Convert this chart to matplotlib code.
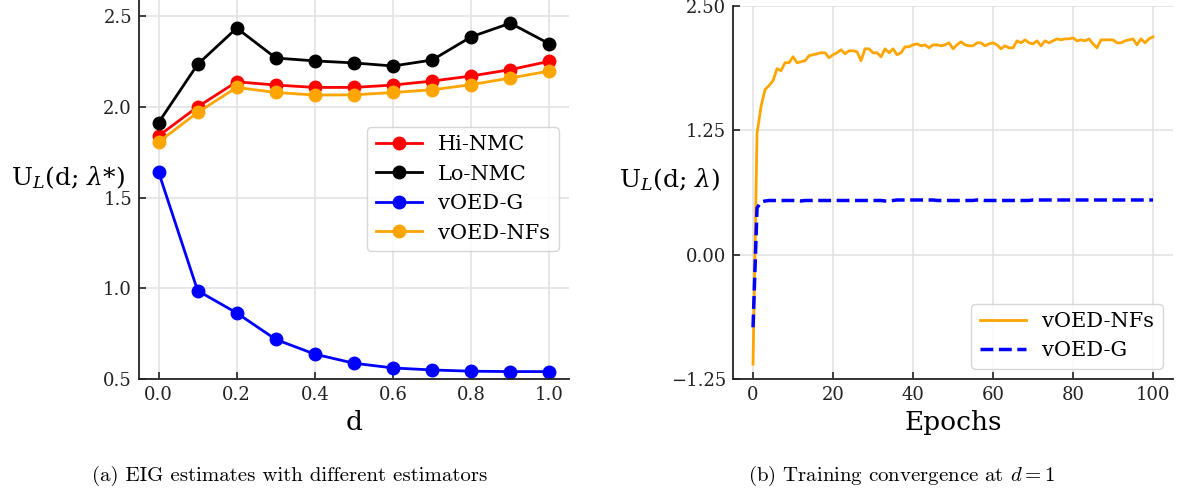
import matplotlib
matplotlib.use("Agg")
import matplotlib.pyplot as plt

plt.rcParams['font.family'] = ['DejaVu Serif']
plt.rcParams['mathtext.fontset'] = 'dejavuserif'

# (a) EIG estimates vs design d
d_vals = [0.0, 0.1, 0.2, 0.3, 0.4, 0.5, 0.6, 0.7, 0.8, 0.9, 1.0]
hi_nmc = [1.84, 2.00, 2.138, 2.12, 2.107, 2.107, 2.12, 2.142, 2.17, 2.205, 2.251]
lo_nmc = [1.913, 2.234, 2.434, 2.269, 2.253, 2.242, 2.225, 2.258, 2.386, 2.461, 2.347]
voed_g = [1.641, 0.987, 0.864, 0.718, 0.637, 0.587, 0.561, 0.55, 0.543, 0.541, 0.541]
voed_nfs = [1.806, 1.969, 2.107, 2.079, 2.065, 2.066, 2.079, 2.094, 2.122, 2.159, 2.197]

# (b) training convergence at d = 1
epochs = list(range(101))
nfs_train = [-1.10, 1.22, 1.49, 1.66, 1.70, 1.75, 1.87, 1.85, 1.93, 1.93,
             1.99, 1.93, 1.94, 1.95, 2.00, 2.01, 2.02, 2.03, 2.03, 1.98,
             2.01, 2.03, 2.06, 2.02, 2.05, 2.05, 2.04, 1.95, 2.07, 2.07,
             2.03, 2.03, 1.99, 2.07, 2.03, 2.07, 2.01, 2.03, 2.09, 2.09,
             2.11, 2.12, 2.10, 2.11, 2.08, 2.11, 2.11, 2.10, 2.11, 2.13,
             2.07, 2.11, 2.14, 2.11, 2.10, 2.10, 2.13, 2.13, 2.10, 2.12,
             2.13, 2.11, 2.07, 2.10, 2.08, 2.08, 2.15, 2.13, 2.16, 2.13,
             2.12, 2.15, 2.10, 2.15, 2.13, 2.15, 2.17, 2.16, 2.17, 2.17,
             2.18, 2.15, 2.16, 2.15, 2.17, 2.12, 2.08, 2.16, 2.16, 2.16,
             2.16, 2.13, 2.13, 2.15, 2.16, 2.17, 2.11, 2.17, 2.13, 2.17,
             2.19]
g_train = [-0.73, 0.47, 0.53, 0.54, 0.545, 0.545, 0.545, 0.545, 0.545, 0.545,
           0.545, 0.545, 0.54, 0.545, 0.545, 0.545, 0.545, 0.545, 0.545, 0.545,
           0.545, 0.545, 0.545, 0.545, 0.545, 0.545, 0.545, 0.545, 0.545, 0.545,
           0.545, 0.545, 0.545, 0.54, 0.54, 0.545, 0.55, 0.55, 0.55, 0.55,
           0.55, 0.55, 0.55, 0.55, 0.55, 0.55, 0.545, 0.545, 0.545, 0.545,
           0.545, 0.545, 0.545, 0.545, 0.545, 0.545, 0.55, 0.55, 0.545, 0.545,
           0.545, 0.545, 0.545, 0.545, 0.545, 0.545, 0.545, 0.545, 0.545, 0.545,
           0.55, 0.55, 0.55, 0.55, 0.55, 0.55, 0.55, 0.55, 0.55, 0.55,
           0.55, 0.55, 0.55, 0.55, 0.55, 0.55, 0.55, 0.55, 0.55, 0.55,
           0.55, 0.55, 0.55, 0.55, 0.55, 0.55, 0.55, 0.55, 0.55, 0.55,
           0.55]

fig = plt.figure(figsize=(11.77, 4.95), dpi=100)
ax1 = fig.add_axes([0.1181, 0.2343, 0.3653, 0.768])
ax2 = fig.add_axes([0.6228, 0.2343, 0.3738, 0.7535])


def style(ax):
    ax.spines['top'].set_visible(False)
    ax.spines['right'].set_visible(False)
    for s in ('left', 'bottom'):
        ax.spines[s].set_linewidth(1.3)
        ax.spines[s].set_color('#222222')
    ax.grid(True, color='#e3e3e3', linewidth=1.2)
    ax.set_axisbelow(True)
    ax.tick_params(direction='in', length=5, width=1.2, labelsize=13,
                   colors='#222222', pad=5)


# left panel
mk = dict(marker='o', markersize=9, linewidth=2)
ax1.plot(d_vals, hi_nmc, color='red', label='Hi-NMC', **mk)
ax1.plot(d_vals, lo_nmc, color='black', label='Lo-NMC', **mk)
ax1.plot(d_vals, voed_g, color='blue', label='vOED-G', **mk)
ax1.plot(d_vals, voed_nfs, color='orange', label='vOED-NFs', **mk)
ax1.set_xlim(-0.05, 1.05)
ax1.set_ylim(0.5, 2.595)
ax1.set_xticks([0.0, 0.2, 0.4, 0.6, 0.8, 1.0])
ax1.set_yticks([0.5, 1.0, 1.5, 2.0, 2.5])
style(ax1)
ax1.set_xlabel('d', fontsize=19)
ax1.set_ylabel(r'U$_L$(d; $\lambda$*)', fontsize=18, rotation=0,
               ha='center', va='center')
ax1.yaxis.set_label_coords(-0.165, 0.53)
ax1.legend(loc='center right', fontsize=15, handlelength=2.2,
           fancybox=True, edgecolor='#cccccc')

# right panel
ax2.plot(epochs, nfs_train, color='orange', linewidth=2, label='vOED-NFs')
ax2.plot(epochs, g_train, color='blue', linewidth=2.5, linestyle='--',
         label='vOED-G')
ax2.set_xlim(-5, 105)
ax2.set_ylim(-1.25, 2.5)
ax2.set_xticks([0, 20, 40, 60, 80, 100])
ax2.set_yticks([-1.25, 0.0, 1.25, 2.5])
ax2.set_yticklabels(['\u22121.25', '0.00', '1.25', '2.50'])
style(ax2)
ax2.set_xlabel('Epochs', fontsize=19)
ax2.set_ylabel(r'U$_L$(d; $\lambda$)', fontsize=18, rotation=0,
               ha='center', va='center')
ax2.yaxis.set_label_coords(-0.143, 0.534)
ax2.legend(loc='lower right', fontsize=15, handlelength=2.2,
           fancybox=True, edgecolor='#cccccc')

fig.text(0.246, 0.038, '(a) EIG estimates with different estimators',
         family='cmr10', fontsize=15, ha='center', va='center')
fig.text(0.766, 0.038, r'(b) Training convergence at $d = 1$',
         family='cmr10', fontsize=15, ha='center', va='center',
         math_fontfamily='cm')

fig.savefig('out.png', dpi=100)
